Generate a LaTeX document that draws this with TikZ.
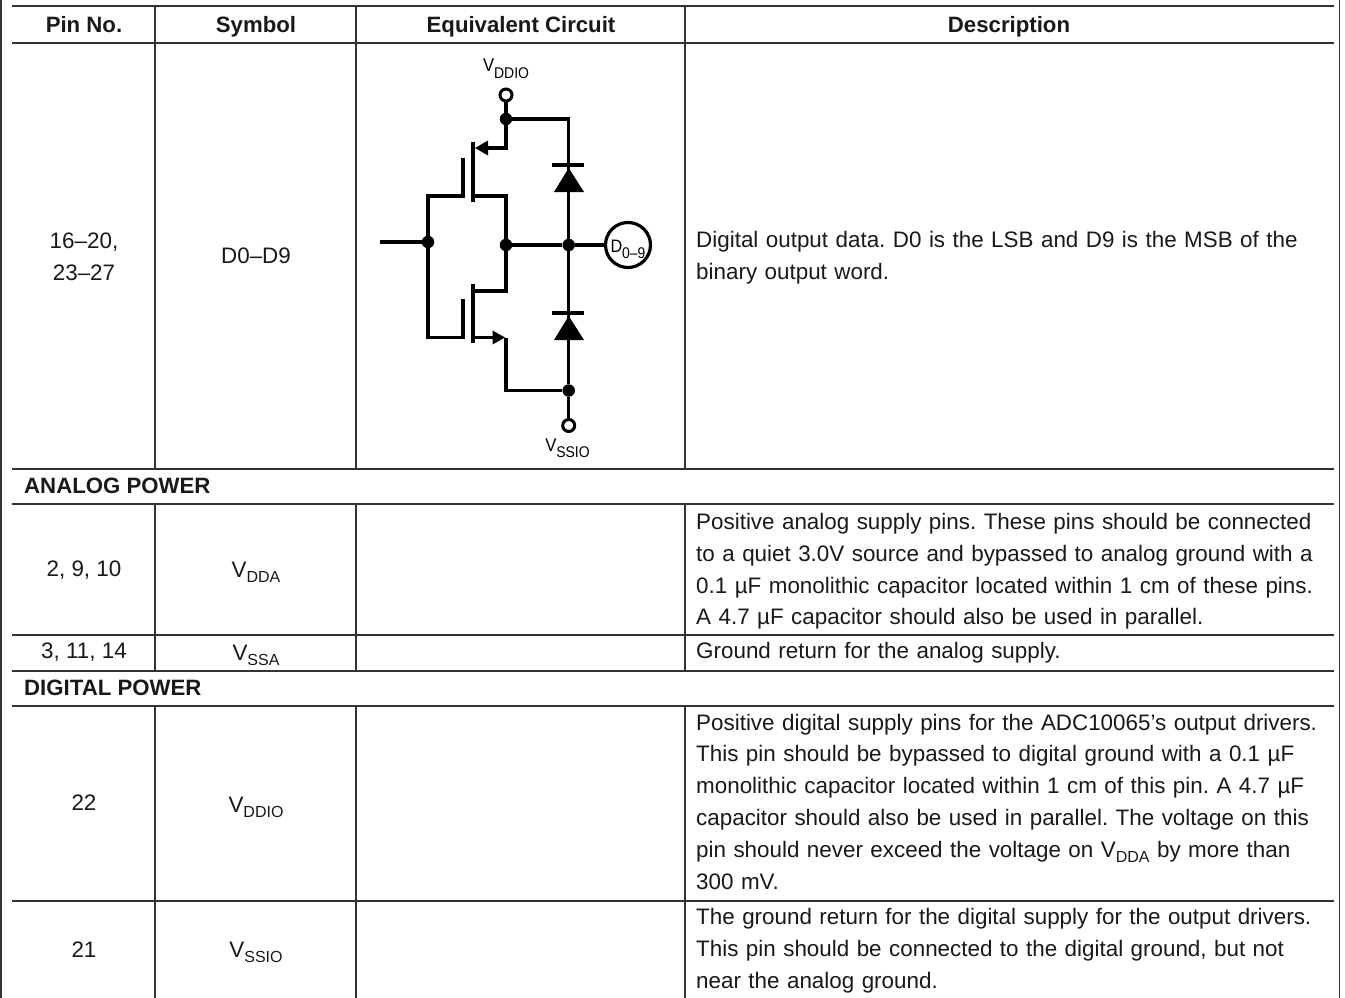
\documentclass[tikz,border=0pt]{standalone}
\usepackage{fontspec}
\setmainfont{Liberation Sans}
\newfontfamily\circfont[FakeStretch=0.9]{Liberation Sans}
\frenchspacing
\tikzset{
  x=1pt,y=-1pt,
  rule/.style={draw=black!80,line width=1.5pt},
  cell/.style={inner sep=0pt,font=\fontsize{22.4}{31.8}\selectfont,text=black!90},
  desc/.style={cell,anchor=west,align=left,text width=645},
  head/.style={cell,anchor=base,font=\fontsize{22.2}{27}\selectfont\bfseries},
  sec/.style={head,anchor=base west},
  symb/.style={cell,anchor=base},
  wire/.style={draw=black,line width=3.2pt},
  bar/.style={draw=black,line width=3.4pt},
  dotn/.style={circle,fill=black,inner sep=0pt,minimum size=12.5pt},
  opn/.style={circle,draw=black,fill=white,line width=3pt,inner sep=0pt,minimum size=12pt},
  tri/.style={fill=black},
  lab/.style={inner sep=0pt,anchor=base,font=\circfont\fontsize{18.5}{20}\selectfont},
}
\newcommand{\vsub}[2]{V\raisebox{-5.5pt}{\fontsize{16}{16}\selectfont #2}}
\newcommand{\csub}[2]{#1\raisebox{-6.5pt}{\fontsize{15.5}{15.5}\selectfont #2}}
\begin{document}
\begin{tikzpicture}
\useasboundingbox (0,0) rectangle (1345,998);
\fill[white] (0,0) rectangle (1345,998);
% table frame
\draw[rule] (1,0)--(1,998);
\draw[rule] (1339.5,0)--(1339.5,998);
\foreach \y in {6,43,469,504,635,671,706,901}{\draw[rule] (12,\y)--(1334,\y);}
\foreach \x in {155,356,685}{
  \draw[rule] (\x,6)--(\x,469);
  \draw[rule] (\x,504)--(\x,671);
  \draw[rule] (\x,706)--(\x,998);
}
% header
\node[head] (h1) at (84,33) {Pin No.};
\node[head] (h2) at (256,33) {Symbol};
\node[head] (h3) at (521,33) {Equivalent Circuit};
\node[head] (h4) at (1009,33) {Description};
% row 1
\node[cell,align=center] (p1) at (84,256.5) {16–20,\\23–27};
\node[cell] (s1) at (256,256) {D0–D9};
\node[desc] (d1) at (696,257.4) {Digital output data. D0 is the LSB and D9 is the MSB of the\\binary output word.};
% sections
\node[sec] (a) at (24,493) {ANALOG POWER};
\node[sec] (dp) at (24,695) {DIGITAL POWER};
% rows
\node[cell] (p2) at (84,570) {2, 9, 10};
\node[symb] (s2) at (256,577) {\vsub{V}{DDA}};
\node[desc] (d2) at (696,571.4) {Positive analog supply pins. These pins should be connected\\to a quiet 3.0V source and bypassed to analog ground with a\\0.1 µF monolithic capacitor located within 1 cm of these pins.\\A 4.7 µF capacitor should also be used in parallel.};
\node[cell] (p3) at (84,652.5) {3, 11, 14};
\node[symb] (s3) at (256,660) {\vsub{V}{SSA}};
\node[desc] (d3) at (696,652.5) {Ground return for the analog supply.};
\node[cell] (p4) at (84,803) {22};
\node[symb] (s4) at (256,812) {\vsub{V}{DDIO}};
\node[desc] (d4) at (696,801.5) {Positive digital supply pins for the ADC10065’s output drivers.\\This pin should be bypassed to digital ground with a 0.1 µF\\monolithic capacitor located within 1 cm of this pin. A 4.7 µF\\capacitor should also be used in parallel. The voltage on this\\pin should never exceed the voltage on \vsub{V}{DDA} by more than\\300 mV.};
\node[cell] (p5) at (84,950) {21};
\node[symb] (s5) at (256,957) {\vsub{V}{SSIO}};
\node[desc] (d5) at (696,951) {The ground return for the digital supply for the output drivers.\\This pin should be connected to the digital ground, but not\\near the analog ground.};
% circuit nodes
\node[opn] (vdd) at (506,95) {};
\node[dotn] (j1) at (506,119) {};
\node[dotn] (jg) at (428,242) {};
\node[dotn] (jm) at (506,245) {};
\node[dotn] (jd) at (568.7,245) {};
\node[dotn] (jb) at (568.7,390.5) {};
\node[opn] (vss) at (568.7,425.5) {};
\coordinate (in) at (380,242);
\coordinate (c1) at (568.7,119);
\coordinate (ps) at (506,148);
\coordinate (pd) at (506,196);
\coordinate (pg) at (428,196);
\coordinate (ng) at (428,337.5);
\coordinate (nd) at (506,291);
\coordinate (ns) at (506,337.5);
\coordinate (bc) at (506,390.5);
\coordinate (dt) at (568.7,165);
\coordinate (db) at (568.7,313);
\node[circle,draw=black,line width=3.2pt,inner sep=0pt,minimum size=45pt] (out) at (628,245) {};
\node[inner sep=0pt,anchor=base,font=\circfont\fontsize{18}{20}\selectfont] (outl) at (628,252) {\csub{D}{0–9}};
\node[lab] (vl1) at (506,72) {\csub{V}{DDIO}};
\node[lab] (vl2) at (567.5,451) {\csub{V}{SSIO}};
% wires
\draw[wire] (vdd)--(j1);
\draw[wire] (j1)--(ps)--(480,148);
\draw[wire] (j1)--(c1)--(dt);
\fill[tri] (475,148)--(488,140.5)--(488,155.5)--cycle;
\draw[bar] (473,142)--(473,202);
\draw[wire] (463,158)--(463,196)--(pg)--(jg);
\draw[wire] (473,196)--(pd)--(jm);
\draw[wire] (in)--(jg);
\draw[wire] (jg)--(ng)--(463,337.5)--(463,299);
\draw[wire] (jm)--(nd)--(473,291);
\draw[bar] (473,284)--(473,343);
\draw[wire] (473,337.5)--(495,337.5);
\fill[tri] (505,337.5)--(492.5,330.5)--(492.5,344.5)--cycle;
\draw[wire] (ns)--(bc)--(jb);
\draw[wire] (jm)--(jd)--(out);
\draw[wire] (dt)--(jd);
\draw[wire] (jd)--(db);
\draw[wire] (db)--(jb)--(vss);
% diodes
\draw[bar] (552,165)--(584,165);
\fill[tri] (568.7,168)--(554,192)--(584,192)--cycle;
\draw[bar] (552,313)--(584,313);
\fill[tri] (568.7,316)--(554,340)--(584,340)--cycle;
\end{tikzpicture}
\end{document}
